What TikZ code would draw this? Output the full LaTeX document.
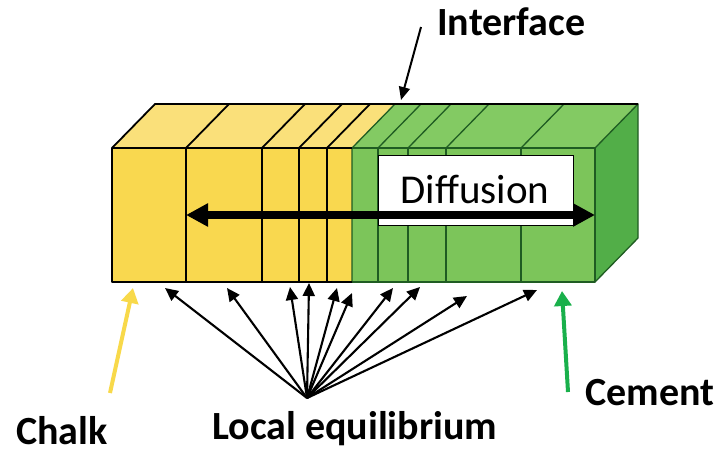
\documentclass[tikz,border=0pt]{standalone}
\usepackage{fontspec}
\setmainfont{Carlito}
\usetikzlibrary{arrows.meta}
\definecolor{yfront}{HTML}{F9D84F}
\definecolor{ytop}{HTML}{FAE07A}
\definecolor{gfront}{HTML}{7CC55A}
\definecolor{gtop}{HTML}{83CA63}
\definecolor{gside}{HTML}{52AE48}
\definecolor{gline}{HTML}{1F5C22}
\definecolor{chalkcol}{HTML}{F8D94A}
\definecolor{cementcol}{HTML}{19B04B}
\tikzset{
  blackedge/.style={draw=black, line width=1.8pt, line join=round},
  greenedge/.style={draw=gline, line width=1.3pt, line join=round},
  eqarrow/.style={draw=black, line width=2.1pt, -{Triangle[length=13pt,width=12pt]}},
  colarrow/.style={line width=4pt, -{Triangle[length=15pt,width=17pt]}},
  label/.style={inner sep=0pt, anchor=base west, text depth=0pt, font=\fontsize{40}{40}\selectfont\bfseries},
}
\begin{document}
\begin{tikzpicture}[x=1pt,y=-1pt]
\useasboundingbox (0,0) rectangle (722,451);
% faces
\fill[yfront] (112,148) rectangle (352,282);
\fill[gfront] (352,148) rectangle (595,282);
\fill[ytop] (112,148) -- (155,104) -- (395,104) -- (352,148) -- cycle;
\fill[gtop] (352,148) -- (395,104) -- (638,104) -- (595,148) -- cycle;
\fill[gside] (595,148) -- (638,104) -- (638,238) -- (595,282) -- cycle;
% yellow dividers
\foreach \x in {186,262,299,327} {
  \draw[blackedge] (\x,148) -- (\x,282);
  \draw[blackedge] (\x,148) -- (\x+43,104);
}
% green dividers
\foreach \x in {378,408,446,521} {
  \draw[greenedge] (\x,148) -- (\x,282);
  \draw[greenedge] (\x,148) -- (\x+43,104);
}
\draw[greenedge] (352,282) -- (352,148) -- (395,104);
\draw[greenedge] (352,282) -- (595,282) -- (595,148) -- (352,148);
\draw[greenedge] (595,148) -- (638,104) -- (638,238) -- (595,282);
\draw[blackedge] (352,282) -- (112,282) -- (112,148) -- (155,104) -- (638,104);
\draw[blackedge] (112,148) -- (352,148);
% diffusion box
\node (diffbox) [draw=black, fill=white, line width=0.8pt, minimum width=195pt, minimum height=70pt, inner sep=0pt, anchor=north west] at (378,155) {};
\node (difftext) [inner sep=0pt, anchor=base, font=\fontsize{41}{41}\selectfont] at (475,203) {Diffusion};
\coordinate (dl) at (186,215);
\coordinate (dr) at (595,215);
\draw[line width=8pt, {Triangle[length=22pt,width=22pt]}-{Triangle[length=22pt,width=22pt]}] (dl) -- (dr);
% labels
\node (interface) [label] at (437,35) {Interface};
\node (chalk) [label] at (16,444) {Chalk};
\node (localeq) [label] at (212,439) {Local equilibrium};
\node (cement) [label] at (585,405) {Cement};
% interface arrow
\coordinate (ifs) at (421,27);
\coordinate (ift) at (401,100);
\draw[line width=2pt, -{Triangle[length=13pt,width=11pt]}] (ifs) -- (ift);
% chalk and cement arrows
\coordinate (chs) at (110,393);
\coordinate (cht) at (133,288);
\draw[colarrow, draw=chalkcol, fill=chalkcol] (chs) -- (cht);
\coordinate (ces) at (568,392);
\coordinate (cet) at (562,291);
\draw[colarrow, draw=cementcol, fill=cementcol] (ces) -- (cet);
% local equilibrium arrows
\coordinate (eqo) at (307,398);
\foreach \px/\py [count=\i] in {165/288,227/288,290/287,309/283,337/288,352/293,393/288,420/287,467/296,537/290} {
  \coordinate (eq\i) at (\px,\py);
  \draw[eqarrow] (eqo) -- (eq\i);
}
\end{tikzpicture}
\end{document}
